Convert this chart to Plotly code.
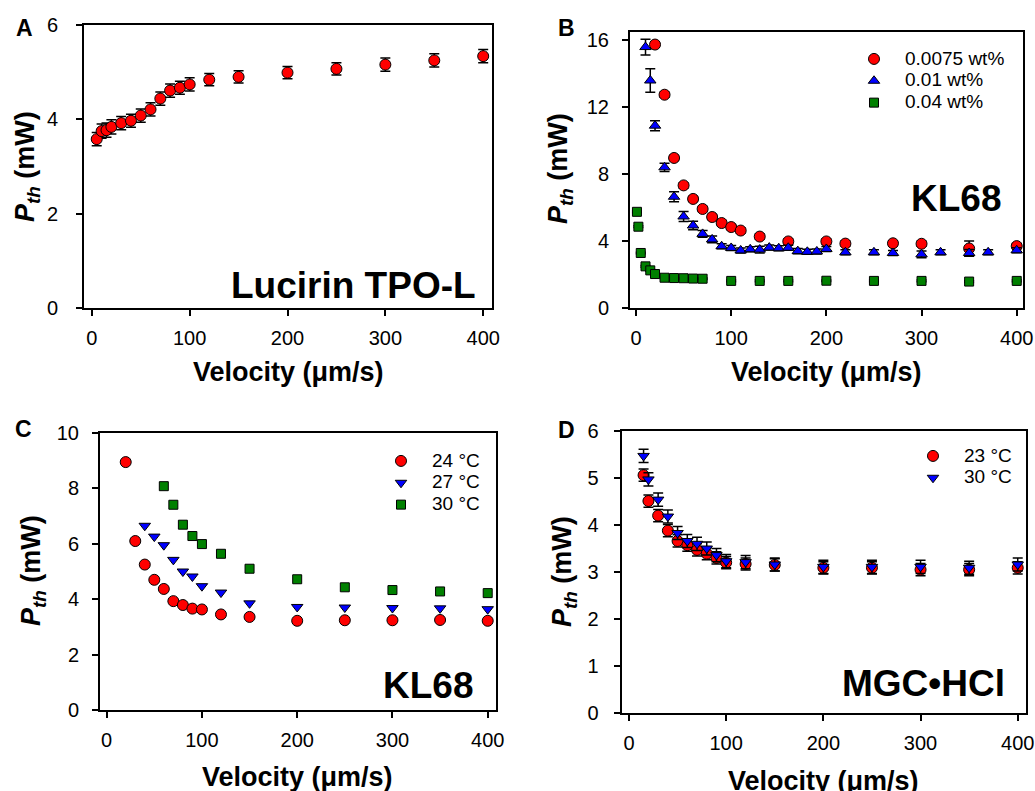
import plotly.graph_objects as go

FONT = "Arial, Liberation Sans, sans-serif"

# ---------------- Panel A : Lucirin TPO-L ----------------
a_velocity = [5, 10, 15, 20, 30, 40, 50, 60, 70, 80, 90, 100, 120, 150, 200, 250, 300, 350, 400]
a_pth = [3.58, 3.75, 3.77, 3.84, 3.92, 3.97, 4.08, 4.21, 4.44, 4.61, 4.67, 4.74, 4.84, 4.90, 4.99, 5.07, 5.16, 5.25, 5.34]
a_err = [0.14, 0.15, 0.15, 0.15, 0.14, 0.14, 0.14, 0.14, 0.14, 0.14, 0.14, 0.14, 0.13, 0.13, 0.13, 0.13, 0.14, 0.14, 0.14]

# ---------------- Panel B : KL68 concentrations ----------------
b_labels = ["0.0075 wt%", "0.01 wt%", "0.04 wt%"]
b1_velocity = [20, 30, 40, 50, 60, 70, 80, 90, 100, 110, 130, 160, 200, 220, 270, 300, 350, 400]
b1_pth = [15.75, 12.75, 8.97, 7.33, 6.52, 5.92, 5.44, 5.08, 4.84, 4.63, 4.27, 3.98, 3.98, 3.85, 3.87, 3.84, 3.56, 3.70]
b1_err = [0.15, 0.15, 0.15, 0.15, 0.15, 0.15, 0.15, 0.15, 0.15, 0.15, 0.15, 0.15, 0.15, 0.15, 0.15, 0.15, 0.45, 0.15]

b2_velocity = [10, 15, 20, 30, 40, 50, 60, 70, 80, 90, 100, 110, 120, 130, 140, 150, 160, 170, 180, 190,
               200, 220, 250, 270, 300, 320, 350, 370, 400]
b2_pth = [15.6, 13.6, 10.9, 8.41, 6.65, 5.47, 4.93, 4.43, 4.10, 3.69, 3.59, 3.44, 3.51, 3.49, 3.61, 3.57, 3.60, 3.40,
          3.36, 3.38, 3.53, 3.33, 3.33, 3.29, 3.21, 3.33, 3.29, 3.33, 3.45]
b2_err = [0.47, 0.70, 0.30, 0.25, 0.30, 0.30, 0.25, 0.20, 0.20, 0.15, 0.15, 0.15, 0.15, 0.20, 0.15, 0.15, 0.15, 0.15,
          0.15, 0.15, 0.15, 0.15, 0.15, 0.15, 0.20, 0.15, 0.20, 0.15, 0.15]

b3_velocity = [1, 2.5, 5, 10, 15, 20, 30, 40, 50, 60, 70, 100, 130, 160, 200, 250, 300, 350, 400]
b3_pth = [5.75, 4.86, 3.29, 2.49, 2.25, 2.03, 1.81, 1.79, 1.78, 1.76, 1.75, 1.62, 1.62, 1.62, 1.63, 1.62, 1.62, 1.58, 1.62]
b3_err = [0.05] * 19

# ---------------- Panel C : KL68 temperatures ----------------
c_labels = ["24 °C", "27 °C", "30 °C"]
c1_velocity = [20, 30, 40, 50, 60, 70, 80, 90, 100, 120, 150, 200, 250, 300, 350, 400]
c1_pth = [8.95, 6.10, 5.25, 4.70, 4.37, 3.93, 3.79, 3.66, 3.63, 3.45, 3.36, 3.22, 3.24, 3.24, 3.25, 3.22]
c2_velocity = [40, 50, 60, 70, 80, 90, 100, 120, 150, 200, 250, 300, 350, 400]
c2_pth = [6.65, 6.26, 5.95, 5.42, 5.00, 4.82, 4.47, 4.24, 3.85, 3.72, 3.70, 3.68, 3.67, 3.64]
c3_velocity = [60, 70, 80, 90, 100, 120, 150, 200, 250, 300, 350, 400]
c3_pth = [8.08, 7.41, 6.69, 6.28, 5.99, 5.64, 5.10, 4.72, 4.43, 4.33, 4.28, 4.22]

# ---------------- Panel D : MGC•HCl ----------------
d_labels = ["23 °C", "30 °C"]
d_velocity = [15, 20, 30, 40, 50, 60, 70, 80, 90, 100, 120, 150, 200, 250, 300, 350, 400]
d1_pth = [5.06, 4.51, 4.20, 3.88, 3.66, 3.57, 3.47, 3.39, 3.30, 3.20, 3.17, 3.15, 3.09, 3.09, 3.05, 3.05, 3.09]
d1_err = [0.13] * 17
d2_pth = [5.47, 4.97, 4.54, 4.18, 3.83, 3.66, 3.60, 3.50, 3.36, 3.23, 3.21, 3.16, 3.11, 3.11, 3.11, 3.09, 3.16]
d2_err = [0.14] * 17

x_ticks = [0, 100, 200, 300, 400]

RED, BLUE, GREEN = "#FF0000", "#0000FF", "#008000"

fig = go.Figure()


def add(xs, ys, name, symbol, color, size, ax, legend, err=None, showlegend=True):
    kw = {}
    if err is not None:
        kw["error_y"] = dict(type="data", array=err, color="black", thickness=1.5, width=5)
    fig.add_trace(go.Scatter(
        x=xs, y=ys, mode="markers", name=name,
        marker=dict(symbol=symbol, color=color, size=size, line=dict(color="black", width=1)),
        xaxis="x" + ax, yaxis="y" + ax, legend=legend, showlegend=showlegend, **kw))


def lg(text):
    return '<span style="font-size:19px">' + text + "</span>"


add(a_velocity, a_pth, "Lucirin TPO-L", "circle", RED, 11, "", "legend", a_err, showlegend=False)
add(b1_velocity, b1_pth, lg(b_labels[0]), "circle", RED, 11, "2", "legend", b1_err)
add(b2_velocity, b2_pth, lg(b_labels[1]), "triangle-up", BLUE, 10, "2", "legend", b2_err)
add(b3_velocity, b3_pth, lg(b_labels[2]), "square", GREEN, 9, "2", "legend", b3_err)
add(c1_velocity, c1_pth, lg(c_labels[0]), "circle", RED, 11, "3", "legend2")
add(c2_velocity, c2_pth, lg(c_labels[1]), "triangle-down", BLUE, 10, "3", "legend2")
add(c3_velocity, c3_pth, lg(c_labels[2]), "square", GREEN, 9, "3", "legend2")
add(d_velocity, d1_pth, lg(d_labels[0]), "circle", RED, 11, "4", "legend3", d1_err)
add(d_velocity, d2_pth, lg(d_labels[1]), "triangle-down", BLUE, 10, "4", "legend3", d2_err)


def xax(domain, rng, anchor):
    return dict(domain=domain, range=rng, anchor=anchor, showline=True, mirror=True, linewidth=2,
                linecolor="black", ticks="outside", ticklen=6, tickwidth=2, tickcolor="black",
                tickvals=x_ticks, tickfont=dict(family=FONT, size=20, color="black"),
                showgrid=False, zeroline=False, ticklabelstandoff=5, automargin=False)


def yax(domain, rng, dtick, anchor, standoff):
    return dict(domain=domain, range=rng, anchor=anchor, showline=True, mirror=True, linewidth=2,
                linecolor="black", ticks="outside", ticklen=6, tickwidth=2, tickcolor="black",
                dtick=dtick, tick0=0, tickfont=dict(family=FONT, size=20, color="black"),
                showgrid=False, zeroline=False, ticklabelstandoff=standoff, automargin=False)


W, H = 1035, 791


def px(x):
    return x / W


def py(y):
    return 1 - y / H


leg_common = dict(xanchor="left", yanchor="top", bgcolor="rgba(0,0,0,0)",
                  font=dict(family=FONT, size=14.5, color="black"), itemwidth=52)

fig.update_layout(
    width=W, height=H, margin=dict(l=0, r=0, t=0, b=0, autoexpand=False),
    paper_bgcolor="white", plot_bgcolor="white",
    font=dict(family=FONT, color="black"),
    xaxis=xax([px(84), px(492)], [-8, 409], "y"),
    yaxis=yax([py(308), py(25)], [0, 6], 2, "x", 14),
    xaxis2=xax([px(630), px(1023)], [-6.3, 406.6], "y2"),
    yaxis2=yax([py(308), py(32)], [0, 16.5], 4, "x2", 9),
    xaxis3=xax([px(100), px(496)], [-7, 408.7], "y3"),
    yaxis3=yax([py(710), py(433)], [0, 10], 2, "x3", 9),
    xaxis4=xax([px(621.7), px(1025.7)], [-7.5, 408.2], "y4"),
    yaxis4=yax([py(713), py(431)], [0, 6], 1, "x4", 11),
    legend=dict(x=px(843), y=py(43), **leg_common),
    legend2=dict(x=px(370), y=py(445), **leg_common),
    legend3=dict(x=px(902), y=py(440), **leg_common),
)

ann = []
# y-axis titles
ytitle = "<b><i>P</i><sub><i>th</i></sub> (mW)</b>"
for (x, y) in [(27, 167), (560, 169), (33, 571), (564, 572)]:
    ann.append(dict(text=ytitle, x=px(x), y=py(y), xref="paper", yref="paper", textangle=-90,
                    showarrow=False, xanchor="center", yanchor="middle", font=dict(family=FONT, size=27)))
# x-axis titles
for (x, y) in [(288, 372), (826, 372), (297, 777), (823, 781)]:
    ann.append(dict(text="<b>Velocity (μm/s)</b>", x=px(x), y=py(y), xref="paper", yref="paper",
                    showarrow=False, xanchor="center", yanchor="middle", font=dict(family=FONT, size=27)))
# panel letters
for (t, x, y) in [("A", 24, 28), ("B", 566, 28), ("C", 23, 429), ("D", 566, 430)]:
    ann.append(dict(text="<b>" + t + "</b>", x=px(x), y=py(y), xref="paper", yref="paper",
                    showarrow=False, xanchor="center", yanchor="middle", font=dict(family=FONT, size=23)))
# compound labels
for (t, x, y) in [("Lucirin TPO-L", 478, 285), ("KL68", 1003, 198), ("KL68", 475, 685), ("MGC•HCl", 1007, 683)]:
    ann.append(dict(text="<b>" + t + "</b>", x=px(x), y=py(y), xref="paper", yref="paper",
                    showarrow=False, xanchor="right", yanchor="middle", font=dict(family=FONT, size=37)))
fig.update_layout(annotations=ann)

# remove the default page margin so the figure fills the window exactly
fig.write_html("out.html",
               config={"displayModeBar": False},
               post_script="document.body.style.margin='0';document.body.style.overflow='hidden';")
